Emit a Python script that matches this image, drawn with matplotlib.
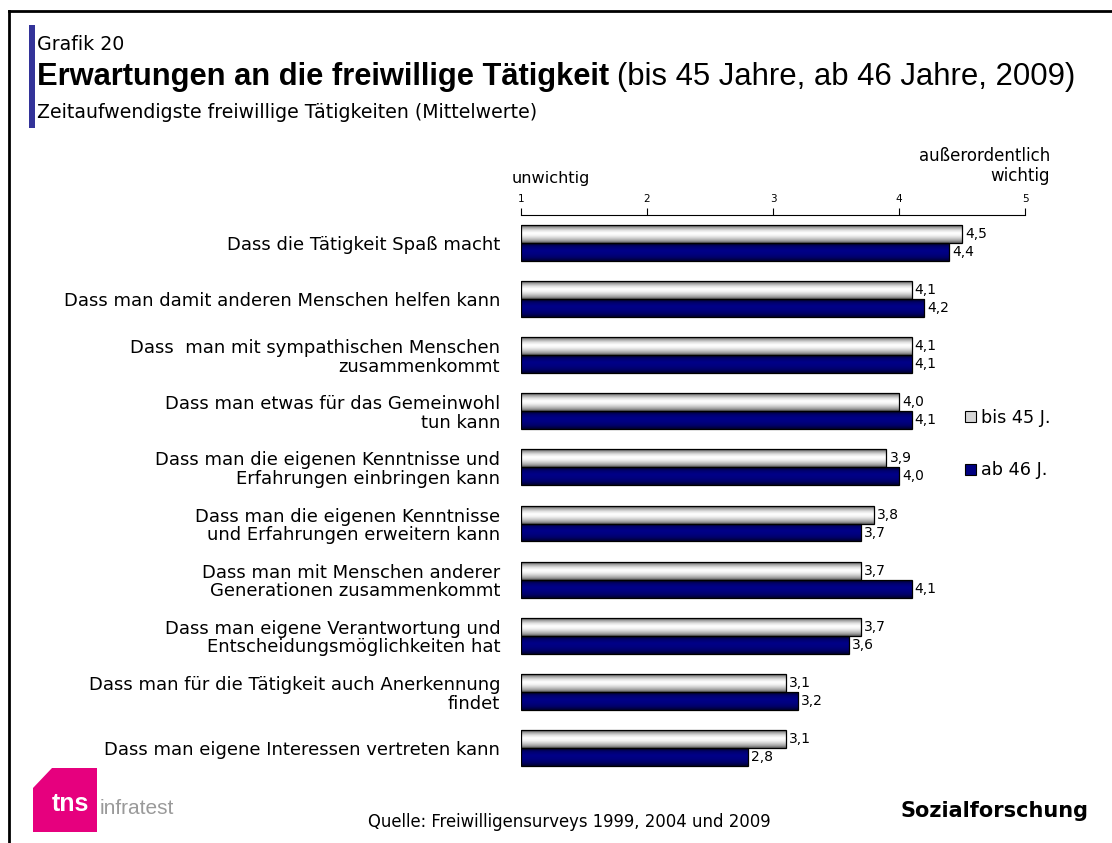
import matplotlib
matplotlib.use("Agg")
import matplotlib.pyplot as plt
import numpy as np
from matplotlib.colors import LinearSegmentedColormap
from matplotlib.patches import Patch, Polygon, Rectangle

plt.rcParams["font.family"] = ["DejaVu Sans"]
TITLE_FONT = ["Liberation Sans", "DejaVu Sans"]

# --- data (mean ratings, 1 = unwichtig ... 5 = außerordentlich wichtig) ---
categories = [
    "Dass die Tätigkeit Spaß macht",
    "Dass man damit anderen Menschen helfen kann",
    "Dass  man mit sympathischen Menschen\nzusammenkommt",
    "Dass man etwas für das Gemeinwohl\ntun kann",
    "Dass man die eigenen Kenntnisse und\nErfahrungen einbringen kann",
    "Dass man die eigenen Kenntnisse\nund Erfahrungen erweitern kann",
    "Dass man mit Menschen anderer\nGenerationen zusammenkommt",
    "Dass man eigene Verantwortung und\nEntscheidungsmöglichkeiten hat",
    "Dass man für die Tätigkeit auch Anerkennung\nfindet",
    "Dass man eigene Interessen vertreten kann",
]
bis45 = [4.5, 4.1, 4.1, 4.0, 3.9, 3.8, 3.7, 3.7, 3.1, 3.1]
ab46 = [4.4, 4.2, 4.1, 4.1, 4.0, 3.7, 4.1, 3.6, 3.2, 2.8]
series_labels = ["bis 45 J.", "ab 46 J."]
x_ticks = [1, 2, 3, 4, 5]

# gradient colour maps for the shaded bars (top -> bottom)
grey_cmap = LinearSegmentedColormap.from_list(
    "greyshade", ["#505050", "#a8a8a8", "#e0e0e0", "#ffffff", "#f6f6f6", "#d4d4d4", "#a8a8a8", "#606060"])
blue_cmap = LinearSegmentedColormap.from_list(
    "blueshade", ["#00002a", "#000070", "#000088", "#000080", "#00006a", "#000030"])

fig = plt.figure(figsize=(11.12, 8.43), dpi=100)
ax = fig.add_axes([0.4685, 0.0795, 0.4533, 0.6655])

y = np.arange(len(categories))
h = 0.32
grad = np.linspace(0, 1, 64).reshape(-1, 1)


def shaded_bars(values, offset, cmap):
    bars = ax.barh(y + offset, [v - 1 for v in values], left=1, height=h,
                   facecolor="none", edgecolor="black", linewidth=0.9, zorder=3)
    for b in bars:
        x0, y0 = b.get_x(), b.get_y()
        im = ax.imshow(grad, extent=[x0, x0 + b.get_width(), y0 + b.get_height(), y0],
                       aspect="auto", cmap=cmap, zorder=2, interpolation="bilinear")
        im.set_clip_path(b)
    return bars


shaded_bars(bis45, -h / 2, grey_cmap)
shaded_bars(ab46, h / 2, blue_cmap)

for i in range(len(categories)):
    ax.text(bis45[i] + 0.025, y[i] - h / 2, f"{bis45[i]:.1f}".replace(".", ","),
            va="center", ha="left", fontsize=10)
    ax.text(ab46[i] + 0.025, y[i] + h / 2, f"{ab46[i]:.1f}".replace(".", ","),
            va="center", ha="left", fontsize=10)

ax.set_xlim(1, 5)
ax.set_ylim(len(categories) - 0.5, -0.5)
ax.set_yticks(y)
ax.set_yticklabels(categories, fontsize=13, ha="right", multialignment="right",
                   linespacing=1.05)
ax.tick_params(axis="y", length=0, pad=15)
ax.xaxis.tick_top()
ax.set_xticks(x_ticks)
ax.set_xticklabels([str(t) for t in x_ticks], fontsize=7.5)
ax.tick_params(axis="x", direction="out", length=5, width=0.8, pad=3)
for s in ["bottom", "left", "right"]:
    ax.spines[s].set_visible(False)
ax.spines["top"].set_linewidth(0.8)

fig.text(512 / 1112, 1 - 178 / 843, "unwichtig", fontsize=11.6, ha="left", va="center")
fig.text(1050 / 1112, 1 - 166 / 843, "außerordentlich\nwichtig", fontsize=12,
         ha="right", va="center", multialignment="right", linespacing=1.1)

# legend
handles = [Patch(facecolor="#d6d6d6", edgecolor="black", linewidth=0.8),
           Patch(facecolor="#000080", edgecolor="black", linewidth=0.8)]
fig.legend(handles, series_labels, loc="upper left", bbox_to_anchor=(965 / 1112, 1 - 409 / 843),
           frameon=False, fontsize=12.7, handlelength=0.6, handleheight=0.6,
           handletextpad=0.3, labelspacing=1.95, borderpad=0, borderaxespad=0)

# header
fig.text(37 / 1112, 1 - 45 / 843, "Grafik 20", fontsize=13.7, va="center")
t = fig.text(37 / 1112, 1 - 77 / 843, "Erwartungen an die freiwillige Tätigkeit",
             fontsize=22.2, fontweight="bold", va="center", family=TITLE_FONT)
fig.canvas.draw()
bb = t.get_window_extent()
fig.text(bb.x1 / fig.bbox.width + 0.007, 1 - 77 / 843,
         "(bis 45 Jahre, ab 46 Jahre, 2009)", fontsize=22.4, va="center", family=TITLE_FONT)
fig.text(37 / 1112, 1 - 112 / 843, "Zeitaufwendigste freiwillige Tätigkeiten (Mittelwerte)",
         fontsize=13.6, va="center")
fig.patches.append(Rectangle((29 / 1112, 1 - 128 / 843), 6 / 1112, 103 / 843,
                             transform=fig.transFigure, facecolor="#333399",
                             edgecolor="none"))

# frame lines (top and left)
fig.add_artist(plt.Line2D([9 / 1112, 1], [1 - 11 / 843, 1 - 11 / 843],
                          transform=fig.transFigure, color="black", lw=2))
fig.add_artist(plt.Line2D([9 / 1112, 9 / 1112], [0, 1 - 11 / 843],
                          transform=fig.transFigure, color="black", lw=2))

# footer
fig.text(569 / 1112, 1 - 822 / 843, "Quelle: Freiwilligensurveys 1999, 2004 und 2009",
         fontsize=11.9, ha="center", va="center")
fig.text(1088 / 1112, 1 - 811 / 843, "Sozialforschung", fontsize=15,
         fontweight="bold", ha="right", va="center")

# tns infratest logo
logo = np.array([[33, 788], [52, 768], [97, 768], [97, 832], [33, 832]], dtype=float)
logo[:, 0] /= 1112
logo[:, 1] = 1 - logo[:, 1] / 843
fig.patches.append(Polygon(logo, closed=True, transform=fig.transFigure,
                           facecolor="#e6007e", edgecolor="none"))
fig.text(52 / 1112, 1 - 804 / 843, "tns", fontsize=18, fontweight="bold",
         color="white", va="center", family=["Liberation Sans Narrow", "Liberation Sans"])
fig.text(100 / 1112, 1 - 808 / 843, "infratest", fontsize=15, color="#9a9a9a",
         va="center", family=["Liberation Sans Narrow", "Liberation Sans"])

fig.savefig("out.png", dpi=100)
